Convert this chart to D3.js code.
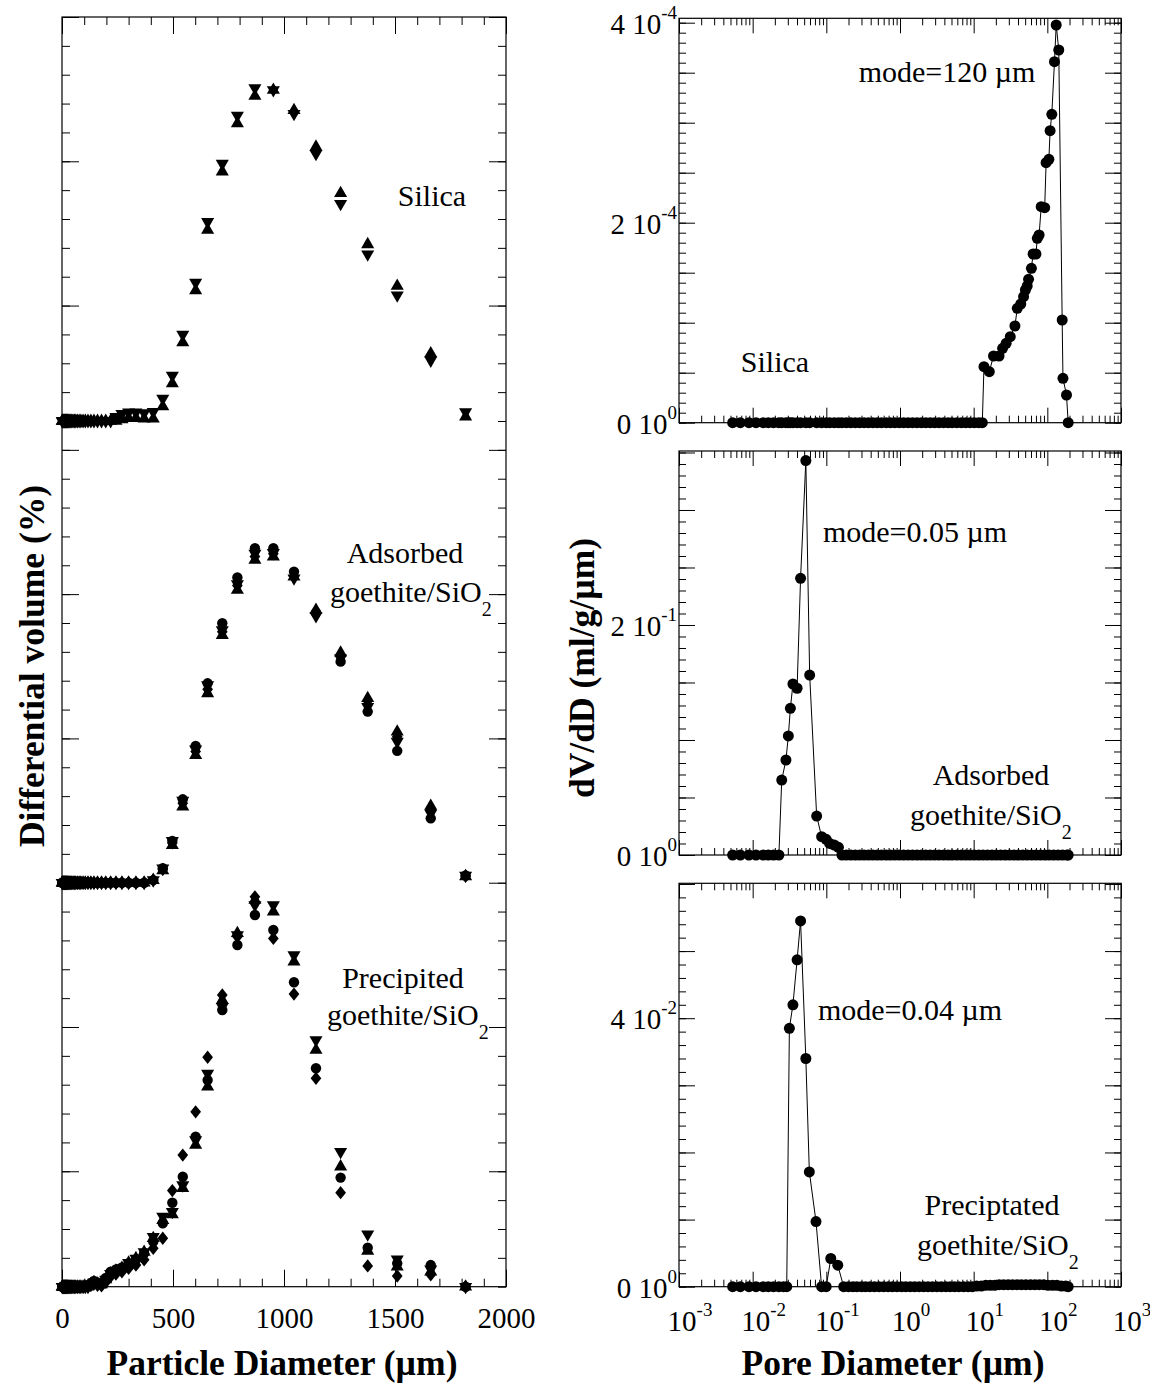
<!DOCTYPE html>
<html>
<head>
<meta charset="utf-8">
<script src="https://cdn.jsdelivr.net/npm/d3@7"></script>
<style>
  body { margin: 0; background: #fff; }
  svg { display: block; }
  text { fill: #000; }
</style>
</head>
<body>
<svg id="chart" width="1150" height="1389"></svg>
<script>
// ---------- left: particle size distributions (stacked, arbitrary offsets) ----------
const sizeBins = [1, 2, 4, 6, 8, 10, 12, 14, 16, 18, 20, 22, 24, 27, 30, 33, 37, 41, 45, 50,
  56, 62, 69, 77, 85, 95, 105, 117, 130, 144, 160, 178, 197, 219, 243, 270, 300, 333, 370, 411,
  454, 497, 544, 602, 656, 722, 790, 869, 952, 1045, 1144, 1255, 1377, 1510, 1661, 1818]

const groupBase = [30, 14, 0]   // Silica, Adsorbed, Precipited

const silicaDown = [0,0,0,0,0,0,0,0,0,0, 0,0,0,0,0,0,0,0,0,0, 0,0,0,0,0,0,0,0,0,0, 0,0,0,0,
  0.15, 0.25, 0.3, 0.3, 0.28, 0.32, 0.78, 1.58, 3.0, 4.8, 6.9, 8.92, 10.59, 11.54, 11.47, 10.65, 9.26, 7.53, 5.78, 4.36, 2.1, 0.31]
const silicaUp = [0,0,0,0,0,0,0,0,0,0, 0,0,0,0,0,0,0,0,0,0, 0,0,0,0,0,0,0,0,0,0, 0,0,0,0,
  0, 0.05, 0.1, 0.1, 0.08, 0.08, 0.5, 1.3, 2.72, 4.52, 6.62, 8.64, 10.31, 11.26, 11.47, 10.77, 9.5, 7.89, 6.12, 4.68, 2.34, 0.15]

const adsCircle = [0,0,0,0,0,0,0,0,0,0, 0,0,0,0,0,0,0,0,0,0, 0,0,0,0,0,0,0,0,0,0, 0,0,0,0,0,0,0,0,0,
  0.09, 0.5, 1.45, 2.89, 4.74, 6.91, 8.99, 10.58, 11.59, 11.59, 10.78, 9.36, 7.66, 5.93, 4.57, 2.23, 0.25]
const adsUp = [0,0,0,0,0,0,0,0,0,0, 0,0,0,0,0,0,0,0,0,0, 0,0,0,0,0,0,0,0,0,0, 0,0,0,0,0,0,0,0,0,
  0.09, 0.42, 1.3, 2.63, 4.42, 6.56, 8.58, 10.14, 11.18, 11.3, 10.6, 9.45, 7.97, 6.39, 5.23, 2.66, 0.22]
const adsDown = [0,0,0,0,0,0,0,0,0,0, 0,0,0,0,0,0,0,0,0,0, 0,0,0,0,0,0,0,0,0,0, 0,0,0,0,0,0,0,0,0,
  0.09, 0.5, 1.45, 2.85, 4.62, 6.85, 8.76, 10.35, 11.41, 11.43, 10.55, 9.24, 7.78, 6.1, 4.89, 2.4, 0.25]
const adsDiamond = [0,0,0,0,0,0,0,0,0,0, 0,0,0,0,0,0,0,0,0,0, 0,0,0,0,0,0,0,0,0,0, 0,0,0,0,0,0,0,0,0,
  0.09, 0.46, 1.38, 2.75, 4.55, 6.7, 8.7, 10.3, 11.3, 11.4, 10.62, 9.36, 7.83, 6.19, 5.06, 2.52, 0.23]

const precCircle = [0,0,0,0,0,0,0,0,0,0, 0,0,0,0,0,0,0,0,0,0, 0,0,0,0,0,0,0,
  0.05, 0.12, 0.2, 0.15, 0.12, 0.3, 0.52, 0.6, 0.67, 0.81, 0.95, 1.16, 1.56, 2.2, 2.91, 3.81, 5.2, 7.16, 9.59, 11.84, 12.88, 12.36, 10.55, 7.57, 3.78, 1.35, 0.81, 0.75, 0]
const precUp = [0,0,0,0,0,0,0,0,0,0, 0,0,0,0,0,0,0,0,0,0, 0,0,0,0,0,0,0,
  0, 0.08, 0.15, 0.1, 0.08, 0.25, 0.45, 0.55, 0.65, 0.83, 0.98, 1.2, 1.68, 2.3, 2.5, 3.41, 4.91, 6.93, 9.93, 12.25, 13.4, 12.99, 11.26, 8.2, 4.16, 1.24, 0.69, 0.52, 0]
const precDown = [0,0,0,0,0,0,0,0,0,0, 0,0,0,0,0,0,0,0,0,0, 0,0,0,0,0,0,0,
  0, 0.08, 0.15, 0.1, 0.08, 0.25, 0.45, 0.55, 0.65, 0.83, 0.98, 1.2, 1.73, 2.43, 2.6, 3.52, 5.08, 7.39, 9.7, 12.19, 13.23, 13.23, 11.49, 8.55, 4.68, 1.82, 0.95, 0.6, 0]
const precDiamond = [0,0,0,0,0,0,0,0,0,0, 0,0,0,0,0,0,0,0,0,0, 0,0,0,0,0,0,0,
  0, 0.05, 0.1, 0.05, 0.03, 0.15, 0.35, 0.44, 0.52, 0.64, 0.75, 0.93, 1.33, 1.68, 3.33, 4.56, 6.06, 7.95, 10.11, 12.13, 13.51, 12.07, 10.14, 7.22, 3.26, 0.72, 0.37, 0.41, 0]

const xTicksL = [0, 500, 1000, 1500, 2000]
const yMajorL = [4, 9, 14, 19, 24, 29, 34, 39, 44]

// ---------- right: pore size distributions (mercury porosimetry) ----------
const poreTop = [0.00535, 0.0068, 0.0089, 0.0111, 0.0139, 0.0163, 0.0192, 0.0227, 0.0248, 0.0283,
  0.0305, 0.0325, 0.0352, 0.0401, 0.0447, 0.0527, 0.0594, 0.0739, 0.0863, 0.0995, 0.111, 0.128,
  0.146, 0.163, 0.187, 0.215, 0.247, 0.283, 0.325, 0.373, 0.428, 0.49, 0.56, 0.65, 0.74, 0.85,
  0.98, 1.12, 1.29, 1.48, 1.7, 1.95, 2.24, 2.57, 2.95, 3.39, 3.9, 4.5, 5.1, 5.9, 6.8, 7.8, 8.9,
  10.2, 11.7, 13.1, 13.8, 16.3, 18.6, 22.1, 24.7, 27.6, 31.4, 36.3, 39.1, 43.6, 47.6, 50.4, 53.3,
  55.6, 60.8, 64.1, 70.0, 73.1, 77.3, 82.6, 92.1, 96.2, 105, 109, 115, 125, 132, 143, 159, 163, 182, 192]
const dvTop = [0,0,0,0,0,0,0,0,0,0, 0,0,0,0,0,0,0,0,0,0, 0,0,0,0,0,0,0,0,0,0,
  0,0,0,0,0,0,0,0,0,0, 0,0,0,0,0,0,0,0,0,0, 0,0,0,0,0,0,
  0.56e-4, 0.51e-4, 0.667e-4, 0.667e-4, 0.744e-4, 0.794e-4, 0.86e-4, 0.967e-4, 1.144e-4, 1.187e-4,
  1.26e-4, 1.327e-4, 1.367e-4, 1.434e-4, 1.544e-4, 1.687e-4, 1.687e-4, 1.844e-4, 1.877e-4, 2.16e-4,
  2.15e-4, 2.6e-4, 2.634e-4, 2.92e-4, 3.084e-4, 3.61e-4, 3.977e-4, 3.727e-4, 1.027e-4, 0.444e-4, 0.277e-4, 0]

const poreMid = [0.00535, 0.0068, 0.0089, 0.0111, 0.0139, 0.0163, 0.0192, 0.0227, 0.0248, 0.0283,
  0.0305, 0.0325, 0.0352, 0.0401, 0.0447, 0.0527, 0.0594, 0.0739, 0.0863, 0.0995, 0.111, 0.128,
  0.146, 0.163, 0.187, 0.215, 0.247, 0.283, 0.325, 0.373, 0.428, 0.49, 0.56, 0.65, 0.74, 0.85,
  0.98, 1.12, 1.29, 1.48, 1.7, 1.95, 2.24, 2.57, 2.95, 3.39, 3.9, 4.5, 5.1, 5.9, 6.8, 7.8, 8.9,
  10.2, 11.7, 13.4, 15.4, 17.7, 20.3, 23.3, 26.8, 30.7, 35.3, 40.5, 46.5, 53.4, 61.3, 70.4, 80.8,
  92.8, 106, 122, 140, 161, 185, 192]
const dvMid = [0,0,0,0,0,0,0,0,
  0.0652, 0.0826, 0.1035, 0.1275, 0.1487, 0.145, 0.2406, 0.343, 0.1565, 0.0339, 0.0159, 0.0136, 0.0101, 0.0087, 0.0067, 0,
  0,0,0,0,0,0,0,0,0,0, 0,0,0,0,0,0,0,0,0,0, 0,0,0,0,0,0,0,0,0,0, 0,0,0,0,0,0,0,0,0,0,
  0,0,0,0,0,0,0,0,0,0, 0,0]

const poreBot = [0.00535, 0.0068, 0.0089, 0.0111, 0.0139, 0.0163, 0.0192, 0.0227, 0.0262, 0.029,
  0.0315, 0.0352, 0.0401, 0.0447, 0.0527, 0.0588, 0.0724, 0.0863, 0.0995, 0.115, 0.143, 0.172,
  0.2, 0.23, 0.26, 0.3, 0.34, 0.39, 0.45, 0.52, 0.6, 0.69, 0.79, 0.91, 1.05, 1.2, 1.38, 1.58, 1.82,
  2.09, 2.4, 2.76, 3.17, 3.64, 4.2, 4.8, 5.5, 6.3, 7.3, 8.4, 9.6, 11, 12.7, 14.6, 16.8, 19.3, 22.2,
  25.5, 29.3, 33.7, 38.7, 44.5, 51.1, 58.8, 67.5, 77.6, 89.2, 102, 118, 135, 155, 178, 192]
const dvBot = [0,0,0,0,0,0,0,0,0,0,
  0.0385, 0.042, 0.0487, 0.0545, 0.034, 0.0171, 0.0097, 0, 0, 0.0042, 0.0032, 0,
  0,0,0,0,0,0,0,0,0,0, 0,0,0,0,0,0,0,0,0,0, 0,0,0,0,0,0,0,0,0,
  0.0001, 0.0001, 0.0002, 0.0002, 0.0002, 0.0003, 0.0003, 0.0003, 0.0003, 0.0003, 0.0003,
  0.0003, 0.0003, 0.0003, 0.0003, 0.0003, 0.0002, 0.0002, 0.0002, 0.0001, 0.0001, 0]

const decades = [1e-3, 1e-2, 1e-1, 1e0, 1e1, 1e2, 1e3]
const topYLabels = [[0, '0', '0'], [2e-4, '2', '-4'], [4e-4, '4', '-4']]
const midYLabels = [[0, '0', '0'], [0.2, '2', '-1']]
const botYLabels = [[0, '0', '0'], [0.04, '4', '-2']]

// ---------- drawing ----------
const font = '"Liberation Serif", "Times New Roman", Times, serif'
const svg = d3.select('#chart').attr('font-family', font)

function axis(gen, tx, ty) {
  const g = svg.append('g')
    .attr('transform', `translate(${tx},${ty})`)
    .call(gen)
  g.select('.domain').remove()
  g.attr('font-family', font).attr('font-size', 29)
  g.selectAll('line').attr('stroke', '#000').attr('stroke-width', 1)
  return g
}

function frame(x, y) {
  svg.append('rect')
    .attr('x', x.range()[0]).attr('y', y.range()[1])
    .attr('width', x.range()[1] - x.range()[0])
    .attr('height', y.range()[0] - y.range()[1])
    .attr('fill', 'none').attr('stroke', '#000').attr('stroke-width', 1.2)
}

// custom diamond a bit wider than d3's
const diamondWide = {
  draw(ctx, size) {
    const h = Math.sqrt(size) * 0.8, w = h * 0.8
    ctx.moveTo(0, -h); ctx.lineTo(w, 0); ctx.lineTo(0, h); ctx.lineTo(-w, 0); ctx.closePath()
  }
}
const shapes = {
  circle: d3.symbol(d3.symbolCircle, 85),
  up: d3.symbol(d3.symbolTriangle, 74),
  down: d3.symbol(d3.symbolTriangle, 74),
  diamond: d3.symbol(diamondWide, 70),
  dot: d3.symbol(d3.symbolCircle, 95)
}

// ----- left panel -----
const xL = d3.scaleLinear().domain([0, 2000]).range([62, 506])
const yL = d3.scaleLinear().domain([0, 44]).range([1286.7, 17])
const xMinorL = d3.range(0, 2001, 100)
const yMinorL = d3.range(0, 45, 1)

axis(d3.axisBottom(xL).tickValues(xMinorL).tickSize(-8).tickFormat(''), 0, yL(0))
axis(d3.axisBottom(xL).tickValues(xTicksL).tickSize(-17).tickPadding(21).tickFormat(d => d), 0, yL(0))
axis(d3.axisTop(xL).tickValues(xMinorL).tickSize(-8).tickFormat(''), 0, yL(44))
axis(d3.axisTop(xL).tickValues(xTicksL).tickSize(-17).tickFormat(''), 0, yL(44))
axis(d3.axisLeft(yL).tickValues(yMinorL).tickSize(-8).tickFormat(''), xL(0), 0)
axis(d3.axisLeft(yL).tickValues(yMajorL).tickSize(-17).tickFormat(''), xL(0), 0)
axis(d3.axisRight(yL).tickValues(yMinorL).tickSize(-8).tickFormat(''), xL(2000), 0)
axis(d3.axisRight(yL).tickValues(yMajorL).tickSize(-17).tickFormat(''), xL(2000), 0)
frame(xL, yL)

const leftSeries = [
  { base: groupBase[0], shape: 'down', values: silicaDown },
  { base: groupBase[0], shape: 'up', values: silicaUp },
  { base: groupBase[1], shape: 'diamond', values: adsDiamond },
  { base: groupBase[1], shape: 'down', values: adsDown },
  { base: groupBase[1], shape: 'up', values: adsUp },
  { base: groupBase[1], shape: 'circle', values: adsCircle },
  { base: groupBase[2], shape: 'diamond', values: precDiamond },
  { base: groupBase[2], shape: 'down', values: precDown },
  { base: groupBase[2], shape: 'up', values: precUp },
  { base: groupBase[2], shape: 'circle', values: precCircle }
]

leftSeries.forEach(s => {
  svg.append('g')
    .selectAll('path')
    .data(sizeBins.map((x, i) => ({ x, y: s.values[i] + s.base })))
    .join('path')
      .attr('d', shapes[s.shape])
      .attr('fill', '#000')
      .attr('transform', d => `translate(${xL(d.x)},${yL(d.y)})` + (s.shape === 'down' ? ' rotate(180)' : ''))
})

// ----- right panels -----
const xR = d3.scaleLog().domain([1e-3, 1e3]).range([679, 1121])
const xMinorR = []
decades.slice(0, -1).forEach(d => { for (let k = 2; k <= 9; k++) xMinorR.push(d * k) })

const panels = [
  { x: poreTop, y: dvTop, scale: d3.scaleLinear().domain([0, 4.044e-4]).range([422.7, 18.3]),
    minor: d3.range(0, 41).map(i => i * 1e-5), labels: topYLabels },
  { x: poreMid, y: dvMid, scale: d3.scaleLinear().domain([0, 0.3513]).range([855, 451]),
    minor: d3.range(0, 36).map(i => i * 0.01), labels: midYLabels },
  { x: poreBot, y: dvBot, scale: d3.scaleLinear().domain([0, 0.0601]).range([1286.7, 883.3]),
    minor: d3.range(0, 31).map(i => i * 0.002), labels: botYLabels }
]

panels.forEach(p => {
  const y = p.scale
  const top = y.range()[1], bottom = y.range()[0]
  const major = p.minor.filter((d, i) => i % 5 === 0)

  axis(d3.axisBottom(xR).tickValues(xMinorR).tickSize(-7).tickFormat(''), 0, bottom)
  axis(d3.axisBottom(xR).tickValues(decades).tickSize(-15).tickFormat(''), 0, bottom)
  axis(d3.axisTop(xR).tickValues(xMinorR).tickSize(-7).tickFormat(''), 0, top)
  axis(d3.axisTop(xR).tickValues(decades).tickSize(-15).tickFormat(''), 0, top)
  axis(d3.axisLeft(y).tickValues(p.minor).tickSize(-7).tickFormat(''), xR(1e-3), 0)
  axis(d3.axisLeft(y).tickValues(major).tickSize(-16).tickFormat(''), xR(1e-3), 0)
  axis(d3.axisRight(y).tickValues(p.minor).tickSize(-7).tickFormat(''), xR(1e3), 0)
  axis(d3.axisRight(y).tickValues(major).tickSize(-16).tickFormat(''), xR(1e3), 0)
  frame(xR, y)

  const pts = p.x.map((v, i) => [v, p.y[i]])
  svg.append('path')
    .datum(pts)
    .attr('fill', 'none').attr('stroke', '#000').attr('stroke-width', 1)
    .attr('d', d3.line().x(d => xR(d[0])).y(d => y(d[1])))
  svg.append('g')
    .selectAll('path')
    .data(pts)
    .join('path')
      .attr('d', shapes.dot)
      .attr('fill', '#000')
      .attr('transform', d => `translate(${xR(d[0])},${y(d[1])})`)

  const lab = svg.append('g').attr('font-size', 29)
    .selectAll('text').data(p.labels).join('text')
      .attr('x', xR(1e-3) - 2)
      .attr('y', d => y(d[0]) + 11)
      .attr('text-anchor', 'end')
  lab.append('tspan').text(d => d[1] + ' 10')
  lab.append('tspan').attr('dy', -15).attr('font-size', 19).text(d => d[2])
})

// log x labels under the bottom panel
const xl = svg.append('g').attr('font-size', 29)
  .selectAll('text').data(decades).join('text')
    .attr('x', d => xR(d) + 11)
    .attr('y', 1331)
    .attr('text-anchor', 'middle')
xl.append('tspan').text('10')
xl.append('tspan').attr('dy', -15).attr('font-size', 19).text(d => Math.round(Math.log10(d)))

// ----- axis titles -----
svg.append('text')
  .attr('x', 282).attr('y', 1375).attr('text-anchor', 'middle')
  .attr('font-size', 35.5).attr('font-weight', 'bold')
  .text('Particle Diameter (µm)')
svg.append('text')
  .attr('x', 893).attr('y', 1375).attr('text-anchor', 'middle')
  .attr('font-size', 35.5).attr('font-weight', 'bold')
  .text('Pore Diameter (µm)')
svg.append('text')
  .attr('transform', 'translate(44,666) rotate(-90)').attr('text-anchor', 'middle')
  .attr('font-size', 35.5).attr('font-weight', 'bold')
  .text('Differential volume (%)')
svg.append('text')
  .attr('transform', 'translate(594,668) rotate(-90)').attr('text-anchor', 'middle')
  .attr('font-size', 35.5).attr('font-weight', 'bold')
  .text('dV/dD (ml/g/µm)')

// ----- annotations -----
function note(x, y, str, anchor) {
  return svg.append('text').attr('x', x).attr('y', y)
    .attr('font-size', 30).attr('text-anchor', anchor || 'middle').text(str)
}
function sio2(x, y) {
  const t = svg.append('text').attr('x', x).attr('y', y).attr('font-size', 30)
  t.append('tspan').text('goethite/SiO')
  t.append('tspan').attr('dy', 14).attr('font-size', 20).text('2')
}
note(432, 206, 'Silica')
note(405, 563, 'Adsorbed')
sio2(330, 602)
note(403, 988, 'Precipited')
sio2(327, 1025)

note(947, 82, 'mode=120 µm')
note(775, 372, 'Silica')
note(915, 542, 'mode=0.05 µm')
note(991, 785, 'Adsorbed')
sio2(910, 825)
note(910, 1020, 'mode=0.04 µm')
note(992, 1215, 'Preciptated')
sio2(917, 1255)
</script>
</body>
</html>
